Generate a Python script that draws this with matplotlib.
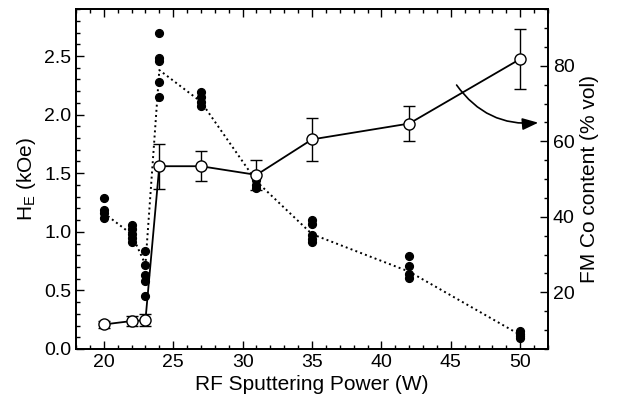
import matplotlib
matplotlib.use("Agg")
import matplotlib.pyplot as plt
from matplotlib.ticker import MultipleLocator

plt.rcParams['font.family'] = 'Liberation Sans'
plt.rcParams['mathtext.fontset'] = 'custom'
plt.rcParams['mathtext.rm'] = 'Liberation Sans'
plt.rcParams['mathtext.it'] = 'Liberation Sans:italic'

# exchange bias, several runs per sputtering power (left axis)
he_power = [20, 22, 23, 24, 27, 31, 35, 42, 50]
he_runs = [
    [1.29, 1.19, 1.16, 1.12],
    [1.06, 1.02, 0.98, 0.95, 0.91],
    [0.84, 0.72, 0.63, 0.58, 0.45],
    [2.70, 2.48, 2.46, 2.28, 2.15],
    [2.19, 2.15, 2.11, 2.07],
    [1.48, 1.44, 1.40, 1.37],
    [1.10, 1.07, 0.97, 0.94, 0.91],
    [0.79, 0.71, 0.64, 0.61],
    [0.15, 0.13, 0.11, 0.09],
]
he_mean = [1.16, 0.98, 0.72, 2.38, 2.11, 1.43, 0.98, 0.66, 0.12]

# FM Co content (right axis)
fm_power = [20, 22, 23, 24, 27, 31, 35, 42, 50]
fm_content = [11.5, 12.4, 12.6, 53.4, 53.4, 51.1, 60.5, 64.7, 81.8]
fm_err = [1.0, 1.3, 1.6, 6.0, 4.0, 4.0, 5.7, 4.6, 8.0]

fig = plt.figure(figsize=(6.17, 4.09), dpi=100)
ax = fig.add_axes([0.1232, 0.1467, 0.765, 0.831])

ax.plot(he_power, he_mean, color='black', linestyle=':', lw=1.4)
for p, runs in zip(he_power, he_runs):
    ax.plot([p] * len(runs), runs, 'o', color='black', ms=5.6, mec='black')

ax.set_xlim(18, 52)
ax.set_ylim(0, 2.9)
ax.xaxis.set_major_locator(MultipleLocator(5))
ax.xaxis.set_minor_locator(MultipleLocator(1))
ax.yaxis.set_major_locator(MultipleLocator(0.5))
ax.yaxis.set_minor_locator(MultipleLocator(0.1))
ax.yaxis.set_major_formatter(plt.FormatStrFormatter('%.1f'))
ax.tick_params(which='both', direction='in', top=True, right=False, width=1, labelsize=14)
ax.tick_params(which='major', length=6)
ax.tick_params(which='minor', length=3)
ax.set_xlabel('RF Sputtering Power (W)', fontsize=15, labelpad=3)
ax.set_ylabel(r'H$_\mathrm{E}$ (kOe)', fontsize=15)

ax2 = ax.twinx()
ax2.errorbar(fm_power, fm_content, yerr=fm_err, color='black', lw=1.3,
             marker='o', ms=8, mfc='white', mec='black', mew=1,
             ecolor='black', elinewidth=1, capsize=4, capthick=1)
ax2.set_ylim(5, 95)
ax2.yaxis.set_major_locator(MultipleLocator(20))
ax2.yaxis.set_minor_locator(MultipleLocator(5))
ax2.tick_params(which='both', direction='in', width=1, labelsize=14)
ax2.tick_params(which='major', length=6)
ax2.tick_params(which='minor', length=3)
ax2.set_ylabel('FM Co content (% vol)', fontsize=15)

ax2.annotate('', xy=(51.5, 65), xytext=(45.3, 75.5),
             arrowprops=dict(arrowstyle='-|>,head_length=0.8,head_width=0.3',
                             connectionstyle='arc3,rad=0.3', color='black',
                             lw=1.2, mutation_scale=12))

for a in (ax, ax2):
    for s in a.spines.values():
        s.set_linewidth(1.3)

fig.savefig('out.png', dpi=100)
